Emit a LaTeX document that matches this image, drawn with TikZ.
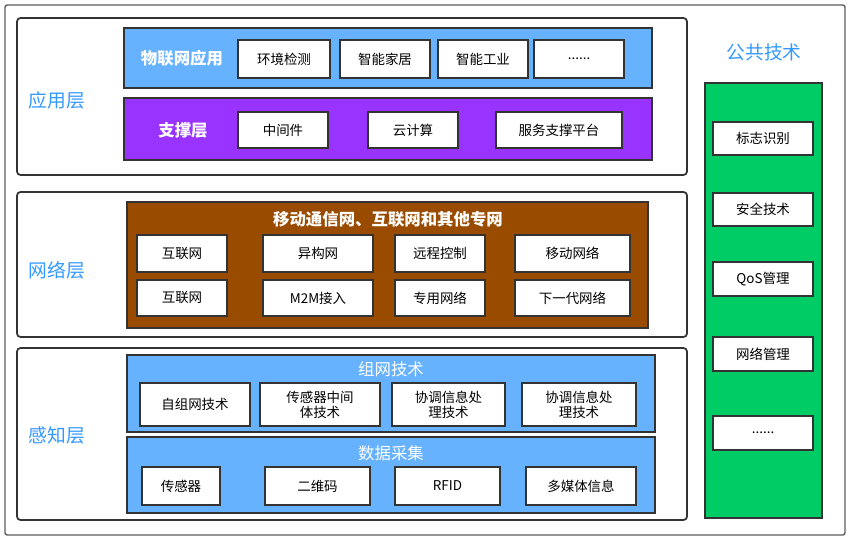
\documentclass[tikz,border=0pt]{standalone}
\usepackage{fontspec}
\setmainfont{Noto Sans CJK SC}
\definecolor{lblue}{HTML}{66B2FF}
\definecolor{tblue}{HTML}{3399FF}
\definecolor{purp}{HTML}{9933FF}
\definecolor{brwn}{HTML}{994C00}
\definecolor{grn}{HTML}{00CC66}
\definecolor{edge}{HTML}{333333}
\tikzset{%
  % box styles
        base/.style = {rectangle, draw=edge, line width=1.5pt, inner sep=0pt,
                       align=center, text centered},
       layer/.style = {base, rounded corners=3pt, fill=white},
      bluebox/.style = {base, fill=lblue},
      purpbox/.style = {base, fill=purp},
      brwnbox/.style = {base, fill=brwn},
       grnbox/.style = {base, fill=grn},
        item/.style = {base, fill=white, font=\fontsize{11.5}{13}\selectfont},
       title/.style = {text=white, font=\fontsize{14}{16}\selectfont\bfseries},
    laylabel/.style = {text=tblue, font=\fontsize{16}{18}\selectfont},
}
% box from pixel corners
\newcommand{\pbox}[7]{%
  \node (#1) [#6, minimum width={(#4-#2)*0.03cm}, minimum height={(#5-#3)*0.03cm}]
    at ({(#2+#4)/2},{(#3+#5)/2}) {#7};}

\begin{document}
\begin{tikzpicture}[x=0.03cm, y=-0.03cm]
  \useasboundingbox (0,0) rectangle (853,542);
  \pbox{frame}{5}{5}{845}{535}{base, draw=edge!80, line width=1.2pt, rounded corners=2pt}{}

  % layers
  \pbox{app}{17}{18}{687}{175}{layer}{}
  \pbox{net}{17}{192}{687}{337}{layer}{}
  \pbox{sense}{17}{348}{687}{520}{layer}{}
  \node (appl) [laylabel] at (57,100) {应用层};
  \node (netl) [laylabel] at (57,270) {网络层};
  \node (sensel) [laylabel] at (57,435) {感知层};

  % application layer
  \pbox{iot}{124}{28}{652}{88}{bluebox}{}
  \node (iotl) [title] at (182,58) {物联网应用};
  \pbox{a1}{238}{40}{330}{78}{item}{环境检测}
  \pbox{a2}{340}{40}{430}{78}{item}{智能家居}
  \pbox{a3}{438}{40}{528}{78}{item}{智能工业}
  \pbox{a4}{534}{40}{624}{78}{item}{......}
  \pbox{sup}{124}{98}{652}{160}{purpbox}{}
  \node (supl) [title] at (183,130) {支撑层};
  \pbox{s1}{238}{112}{328}{148}{item}{中间件}
  \pbox{s2}{368}{112}{458}{148}{item}{云计算}
  \pbox{s3}{496}{112}{622}{148}{item}{服务支撑平台}

  % network layer
  \pbox{mob}{127}{202}{648}{328}{brwnbox}{}
  \node (mobl) [title] at (388,219) {移动通信网、互联网和其他专网};
  \pbox{n1}{137}{235}{227}{272}{item}{互联网}
  \pbox{n2}{263}{235}{373}{272}{item}{异构网}
  \pbox{n3}{395}{235}{485}{272}{item}{远程控制}
  \pbox{n4}{515}{235}{630}{272}{item}{移动网络}
  \pbox{n5}{137}{280}{227}{316}{item}{互联网}
  \pbox{n6}{263}{280}{373}{316}{item}{M2M接入}
  \pbox{n7}{395}{280}{485}{316}{item}{专用网络}
  \pbox{n8}{515}{280}{630}{316}{item}{下一代网络}

  % sensing layer
  \pbox{grp}{127}{355}{655}{432}{bluebox}{}
  \node (grpl) [title, font=\fontsize{14}{16}\selectfont] at (391,369) {组网技术};
  \pbox{g1}{140}{383}{250}{426}{item}{自组网技术}
  \pbox{g2}{260}{383}{380}{426}{item}{传感器中间\\体技术}
  \pbox{g3}{392}{383}{505}{426}{item}{协调信息处\\理技术}
  \pbox{g4}{522}{383}{636}{426}{item}{协调信息处\\理技术}
  \pbox{dat}{127}{437}{655}{513}{bluebox}{}
  \node (datl) [title, font=\fontsize{14}{16}\selectfont] at (391,453) {数据采集};
  \pbox{d1}{142}{467}{220}{505}{item}{传感器}
  \pbox{d2}{265}{467}{370}{505}{item}{二维码}
  \pbox{d3}{395}{467}{500}{505}{item}{RFID}
  \pbox{d4}{526}{467}{636}{505}{item}{多媒体信息}

  % common technology
  \node (coml) [laylabel] at (764,52) {公共技术};
  \pbox{com}{705}{83}{822}{518}{grnbox}{}
  \pbox{c1}{713}{122}{813}{155}{item}{标志识别}
  \pbox{c2}{713}{193}{813}{226}{item}{安全技术}
  \pbox{c3}{713}{262}{813}{296}{item}{QoS管理}
  \pbox{c4}{713}{337}{813}{371}{item}{网络管理}
  \pbox{c5}{713}{416}{813}{450}{item}{......}
\end{tikzpicture}
\end{document}
